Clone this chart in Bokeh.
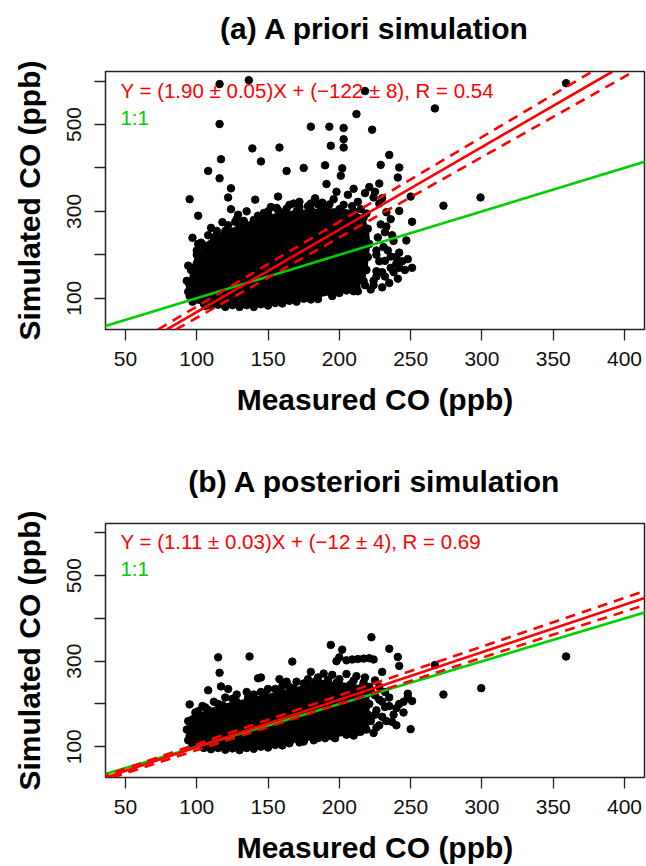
from bokeh.plotting import figure
from bokeh.models import Range1d, FixedTicker, Slope, Label, Title
from bokeh.layouts import column
from bokeh.embed import file_html
from bokeh.resources import INLINE

# ---------------- data ----------------
x_ticks = [50, 100, 150, 200, 250, 300, 350, 400]
y_ticks = [100, 200, 300, 400, 500, 600]
y_tick_labels = {100: "100", 200: "", 300: "300", 400: "", 500: "500", 600: ""}

titles = ["(a) A priori simulation", "(b) A posteriori simulation"]
fit_texts = ["Y = (1.90 \u00b1 0.05)X + (\u2212122 \u00b1 8), R = 0.54",
             "Y = (1.11 \u00b1 0.03)X + (\u221212 \u00b1 4), R = 0.69"]

# regression: slope, slope error, intercept, intercept error
fit_a = (1.90, 0.05, -122.0, 8.0)
fit_b = (1.11, 0.03, -12.0, 4.0)

# dense core of the point cloud (outline of the solid black region), panel a
core_a_x = [97, 105, 115, 125, 135, 145, 155, 165, 175, 185, 195, 205, 212, 217, 219, 220, 221, 220,
            217, 210, 200, 190, 180, 170, 160, 150, 140, 130, 120, 112, 105, 100, 96, 95, 95]
core_a_y = [92, 87, 85, 84, 84, 86, 89, 94, 99, 104, 110, 118, 126, 140, 165, 195, 225, 260,
            285, 300, 305, 305, 303, 300, 296, 290, 280, 265, 255, 240, 222, 200, 165, 130, 105]

# individual points outside the dense core, panel a
pts_a_x = [116, 136.5, 218, 359, 267, 212, 116, 180, 193, 203, 223, 203, 203, 194, 139, 158, 117, 145,
           108, 116, 163, 175, 190, 202, 229, 235, 242, 241, 191, 201, 95, 101, 97, 101, 124, 122,
           141, 124, 129, 152, 156, 157, 273, 299, 250, 242, 251, 247, 242, 251, 242, 232, 224, 207,
           110, 118, 128, 135, 147, 165, 172, 178, 183, 188, 196, 198, 206, 210, 213, 218, 221, 224,
           228, 233, 236, 229, 232, 238, 227, 231, 236, 240, 228, 226, 232, 238, 246, 224, 230, 213,
           185, 160, 140, 120, 106, 200, 228, 225, 230, 168, 185, 233, 237, 226,
           100, 103, 108, 114, 122, 127, 133, 143, 150, 157, 163, 172, 180, 187, 193, 203, 209, 215, 219,
           110, 130, 150, 170, 180, 195, 210, 218, 94, 93, 94,
           226, 234, 240, 244, 236, 230, 241, 226, 248, 235, 222]
pts_a_y = [593, 602, 577, 595, 537, 524, 501, 495, 495, 492, 488, 466, 447, 451, 445, 447, 420, 415,
           393, 376, 393, 400, 406, 399, 407, 430, 401, 378, 363, 382, 328, 290, 239, 225, 353, 332,
           327, 305, 292, 310, 308, 334, 313, 332, 334, 301, 276, 233, 205, 170, 170, 186, 140, 122,
           262, 275, 282, 300, 296, 315, 322, 312, 330, 320, 328, 345, 338, 352, 322, 342, 356, 332,
           318, 298, 282, 270, 252, 232, 240, 218, 196, 180, 185, 162, 150, 160, 165, 130, 125, 116,
           98, 88, 80, 80, 82, 112, 364, 345, 330, 318, 316, 265, 245, 210,
           210, 228, 245, 255, 268, 276, 278, 290, 300, 303, 306, 310, 318, 312, 316, 315, 312, 305, 295,
           82, 80, 83, 92, 97, 105, 116, 130, 115, 140, 175,
           200, 210, 195, 185, 170, 160, 145, 150, 190, 135, 120]

# dense core, panel b
core_b_x = [97, 105, 115, 125, 135, 145, 155, 165, 175, 185, 195, 205, 213, 218, 220, 221, 220, 216,
            208, 198, 188, 178, 168, 158, 148, 138, 128, 118, 108, 100, 96, 95]
core_b_y = [105, 100, 97, 96, 97, 100, 104, 110, 115, 120, 124, 128, 135, 150, 175, 200, 225, 240,
            246, 250, 247, 243, 236, 228, 220, 212, 205, 197, 186, 172, 150, 125]

# individual points outside the dense core, panel b
pts_b_x = [359, 299.5, 273, 267, 222.5, 235, 241, 242, 248, 251, 250, 242, 232, 237, 224, 207, 95, 115,
           116, 137, 145, 167, 194, 202, 180, 189, 143, 158, 163, 108, 101, 97, 117, 122, 136, 230,
           198, 200, 205, 209, 213, 217, 221, 224,
           104, 112, 120, 128, 135, 150, 160, 170, 178, 185, 195, 205, 212, 218, 225, 228, 232, 222,
           228, 235, 226, 230, 222, 228, 215, 190, 165, 140, 120, 105, 130, 175, 210,
           99, 106, 115, 125, 140, 145, 155, 165, 175, 183, 192, 200, 210, 217, 221,
           110, 130, 150, 160, 172, 182, 197, 210, 219, 94, 93, 94,
           225, 230, 235, 240, 245, 238, 225, 233, 240, 226, 245, 248, 222]
pts_b_y = [311, 237, 222, 291, 356, 329, 310, 289, 224, 207, 141, 200, 193, 158, 132, 132, 199, 309,
           273, 311, 262, 299, 338, 327, 275, 271, 260, 258, 252, 232, 183, 164, 241, 235, 214, 275,
           300, 309, 302, 304, 305, 306, 307, 304,
           195, 205, 215, 222, 228, 235, 242, 252, 258, 262, 268, 270, 265, 262, 255, 240, 228, 232,
           210, 195, 185, 170, 160, 150, 135, 120, 108, 95, 93, 97, 92, 112, 128,
           180, 192, 200, 212, 222, 228, 235, 240, 248, 252, 256, 258, 255, 250, 240,
           94, 93, 98, 103, 110, 115, 120, 126, 140, 115, 140, 160,
           220, 205, 215, 190, 180, 175, 175, 160, 150, 145, 205, 215, 165]

panels = [
    dict(title=titles[0], text=fit_texts[0], fit=fit_a, cx=core_a_x, cy=core_a_y, px=pts_a_x, py=pts_a_y,
         height=460, top=71, bottom=131, spacer=24),
    dict(title=titles[1], text=fit_texts[1], fit=fit_b, cx=core_b_x, cy=core_b_y, px=pts_b_x, py=pts_b_y,
         height=406, top=63, bottom=85, spacer=23),
]

RED = "#FF0000"
GREEN = "#00CD00"
FONT = "Liberation Sans"

figs = []
for pd_ in panels:
    p = figure(width=646, height=pd_["height"], output_backend="svg", toolbar_location=None,
               x_range=Range1d(36, 414), y_range=Range1d(28, 622),
               min_border_left=105, min_border_right=2, min_border_top=pd_["top"], min_border_bottom=pd_["bottom"],
               x_axis_label="Measured CO (ppb)", y_axis_label="Simulated CO (ppb)")
    # real title (outermost in the "above" panel)
    p.title.text = pd_["title"]
    p.title.align = "center"
    p.title.text_font = FONT
    p.title.text_font_size = "30px"
    p.title.text_font_style = "bold"
    p.title.text_color = "black"
    p.title.standoff = 0
    # invisible spacer between the title and the frame
    p.add_layout(Title(text=".", text_color="white", text_font_size="2px", standoff=pd_["spacer"]), "above")
    p.xgrid.visible = False
    p.ygrid.visible = False
    p.outline_line_color = "#222222"
    p.outline_line_width = 1.5
    p.background_fill_color = "white"
    p.border_fill_color = "white"

    for ax in (p.xaxis[0], p.yaxis[0]):
        ax.axis_line_color = None
        ax.major_tick_line_color = "#222222"
        ax.major_tick_line_width = 1.3
        ax.major_tick_out = 11
        ax.major_tick_in = 0
        ax.minor_tick_line_color = None
        ax.major_label_text_font = FONT
        ax.major_label_text_font_size = "21px"
        ax.major_label_text_color = "#111111"
        ax.axis_label_text_font = FONT
        ax.axis_label_text_font_size = "30px"
        ax.axis_label_text_font_style = "bold"
        ax.axis_label_text_color = "black"
        ax.major_label_standoff = 13
    p.xaxis[0].major_label_standoff = 11
    p.xaxis[0].ticker = FixedTicker(ticks=x_ticks)
    p.yaxis[0].ticker = FixedTicker(ticks=y_ticks)
    p.yaxis[0].major_label_overrides = y_tick_labels
    p.yaxis[0].major_label_orientation = "vertical"
    p.xaxis[0].axis_label_standoff = 14
    p.yaxis[0].axis_label_standoff = 19

    # points
    p.patch(pd_["cx"], pd_["cy"], fill_color="black", line_color="black", line_width=2, line_join="round")
    p.scatter(pd_["cx"], pd_["cy"], size=7.5, color="black")
    p.scatter(pd_["px"], pd_["py"], size=7.5, color="black")

    # lines
    s, ds, b, db = pd_["fit"]
    p.add_layout(Slope(gradient=1.0, y_intercept=0.0, line_color=GREEN, line_width=2.6))
    p.add_layout(Slope(gradient=s, y_intercept=b, line_color=RED, line_width=2.6))
    p.add_layout(Slope(gradient=s + ds, y_intercept=b + db, line_color=RED, line_width=2.6, line_dash="10 7"))
    p.add_layout(Slope(gradient=s - ds, y_intercept=b - db, line_color=RED, line_width=2.6, line_dash="10 7"))

    p.add_layout(Label(x=46.5, y=579, text=pd_["text"], text_color=RED, text_font=FONT,
                       text_font_size="20.5px", text_baseline="alphabetic"))
    p.add_layout(Label(x=46.5, y=516, text="1:1", text_color=GREEN, text_font=FONT,
                       text_font_size="20.5px", text_baseline="alphabetic"))
    figs.append(p)

layout = column(*figs, spacing=0)
open("out.html", "w").write(file_html(layout, INLINE))
